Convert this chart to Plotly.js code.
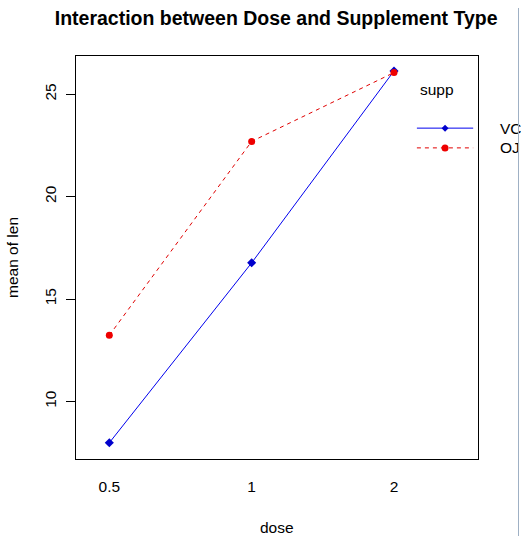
<!DOCTYPE html>
<html lang="en">
  <head>
    <meta charset="utf-8">
    <title>Interaction plot</title>
    <script src="https://cdn.plot.ly/plotly-3.0.1.min.js" charset="utf-8"></script>
    <style>
      body { margin:0; background:#fff; }
      #edge { position:absolute; left:518px; top:8px; width:1px; height:528px; background:#9fb0c4; }
    </style>
  </head>
  <body>
    <div id="plot" style="width:521px;height:536px"></div>
    <div id="edge"></div>
    <script type="text/javascript">
      const FONT = 'Liberation Sans, Arial, sans-serif';
      const FS = 15.5;

      // ToothGrowth: mean of len by dose and supp
      const doses = ['0.5', '1', '2'];
      const suppLevels = ['VC', 'OJ'];
      const meanVC = [7.98, 16.77, 26.14];
      const meanOJ = [13.23, 22.70, 26.06];
      const yTicks = [10, 15, 20, 25];

      let traces = [
        {
          x: doses, y: meanVC, name: 'VC', type: 'scatter', mode: 'lines+markers',
          line: {color: '#0000ee', width: 1},
          marker: {symbol: 'diamond', size: 7, color: '#0000cc'},
          cliponaxis: false
        },
        {
          x: doses, y: meanOJ, name: 'OJ', type: 'scatter', mode: 'lines+markers',
          line: {color: '#e00000', width: 1, dash: '4px,4px'},
          marker: {symbol: 'circle', size: 7, color: '#ee0000'},
          cliponaxis: false
        }
      ];

      // hand drawn legend like R's interaction.plot
      let legendRows = [
        {label: suppLevels[0], y: 0.821, color: '#0000ee', dash: 'solid'},
        {label: suppLevels[1], y: 0.772, color: '#e00000', dash: '4px,4px'}
      ];
      let shapes = [];
      let annotations = [
        {text: 'supp', x: 0.898, y: 0.918, xref: 'paper', yref: 'paper', showarrow: false,
         xanchor: 'center', yanchor: 'middle', font: {family: FONT, size: FS, color: '#000'}},
        {text: 'dose', x: 0.5, y: 0, yshift: -68, xref: 'paper', yref: 'paper', showarrow: false,
         xanchor: 'center', yanchor: 'middle', font: {family: FONT, size: FS, color: '#000'}},
        {text: 'mean of len', x: 0, xshift: -63.5, y: 0.5, xref: 'paper', yref: 'paper', showarrow: false,
         xanchor: 'center', yanchor: 'middle', textangle: -90, font: {family: FONT, size: FS, color: '#000'}}
      ];
      for (let row of legendRows) {
        shapes.push({type: 'line', xref: 'paper', yref: 'paper', x0: 0.848, x1: 0.988, y0: row.y, y1: row.y,
                     line: {color: row.color, width: 1, dash: row.dash}});
        annotations.push({text: row.label, x: 1.05, y: row.y, xref: 'paper', yref: 'paper',
                          xanchor: 'left', yanchor: 'middle',
                          showarrow: false, font: {family: FONT, size: FS, color: '#000'}});
      }
      shapes.push({type: 'path', xref: 'paper', yref: 'paper', xsizemode: 'pixel', ysizemode: 'pixel',
                   xanchor: 0.918, yanchor: 0.821, path: 'M 0 3.5 L 3.5 0 L 0 -3.5 L -3.5 0 Z',
                   fillcolor: '#0000cc', line: {width: 0}});
      shapes.push({type: 'circle', xref: 'paper', yref: 'paper', xsizemode: 'pixel', ysizemode: 'pixel',
                   xanchor: 0.918, yanchor: 0.772, x0: -3.5, x1: 3.5, y0: -3.5, y1: 3.5,
                   fillcolor: '#ee0000', line: {width: 0}});

      let layout = {
        width: 521, height: 536,
        margin: {l: 76, r: 43, t: 56, b: 77},
        showlegend: false,
        paper_bgcolor: '#fff', plot_bgcolor: '#fff',
        font: {family: FONT, color: '#000'},
        title: {
          text: '<b>Interaction between Dose and Supplement Type</b>',
          x: 0.53, xanchor: 'center', y: 0.966, yanchor: 'middle',
          font: {family: FONT, size: 19.5, color: '#000'}
        },
        xaxis: {
          type: 'category', range: [-0.234, 2.59],
          showgrid: false, zeroline: false,
          showline: true, mirror: true, linecolor: '#000', linewidth: 1,
          ticks: '', ticklabelstandoff: 13,
          tickfont: {family: FONT, size: FS, color: '#000'}
        },
        yaxis: {
          range: [7.19, 26.87],
          tickvals: yTicks, ticktext: yTicks.map(String), tickangle: -90,
          showgrid: false, zeroline: false,
          showline: true, mirror: true, linecolor: '#000', linewidth: 1,
          ticks: 'outside', ticklen: 9, tickcolor: '#000', ticklabelstandoff: 4,
          tickfont: {family: FONT, size: FS, color: '#000'}
        },
        shapes: shapes,
        annotations: annotations
      };

      Plotly.newPlot(document.getElementById('plot'), traces, layout, {displayModeBar: false, staticPlot: true});
    </script>
  </body>
</html>
